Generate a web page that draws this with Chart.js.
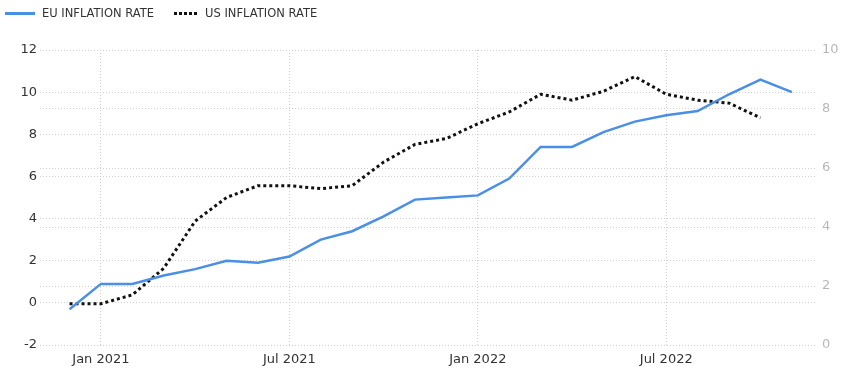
<!DOCTYPE html>
<html>
<head>
<meta charset="utf-8">
<script src="https://cdn.jsdelivr.net/npm/chart.js@4"></script>
<style>
  html, body { margin: 0; padding: 0; background: #fff; }
  #wrap { position: relative; width: 848px; height: 377px; }
  #legend {
    position: absolute; left: 5px; top: 6px;
    font-family: "DejaVu Sans", sans-serif; font-size: 11.5px; color: #333;
    display: flex; align-items: center;
  }
  .item { display: flex; align-items: center; margin-right: 20px; }
  .sw { width: 30px; height: 3px; margin-right: 7px; }
  .eu { background: #4a8fe7; }
  .us { width: 24px; background: repeating-linear-gradient(90deg, #111 0 3px, transparent 3px 5px); }
</style>
</head>
<body>
<div id="wrap">
  <canvas id="chart" width="848" height="377"></canvas>
  <div id="legend">
    <div class="item"><span class="sw eu"></span>EU INFLATION RATE</div>
    <div class="item"><span class="sw us"></span>US INFLATION RATE</div>
  </div>
</div>
<script>
const months = ["Dec 2020", "Jan 2021", "Feb 2021", "Mar 2021", "Apr 2021", "May 2021", "Jun 2021",
  "Jul 2021", "Aug 2021", "Sep 2021", "Oct 2021", "Nov 2021", "Dec 2021",
  "Jan 2022", "Feb 2022", "Mar 2022", "Apr 2022", "May 2022", "Jun 2022",
  "Jul 2022", "Aug 2022", "Sep 2022", "Oct 2022", "Nov 2022"]
const euInflation = [-0.3, 0.9, 0.9, 1.3, 1.6, 2.0, 1.9, 2.2, 3.0, 3.4, 4.1, 4.9, 5.0,
  5.1, 5.9, 7.4, 7.4, 8.1, 8.6, 8.9, 9.1, 9.9, 10.6, 10.0]
const usInflation = [1.4, 1.4, 1.7, 2.6, 4.2, 5.0, 5.4, 5.4, 5.3, 5.4, 6.2, 6.8, 7.0,
  7.5, 7.9, 8.5, 8.3, 8.6, 9.1, 8.5, 8.3, 8.2, 7.7]
const tickLabels = ["Jan 2021", "Jul 2021", "Jan 2022", "Jul 2022"]
const tickValues = tickLabels.map((l) => months.indexOf(l))

// dotted light grid, shared by all three axes
const gridStyle = { color: "#cfcfcf", lineWidth: 1, drawTicks: false }
const gridBorder = { display: false, dash: [1, 2] }
const tickFont = { family: "DejaVu Sans", size: 13 }

new Chart(document.getElementById("chart"), {
  type: "line",
  data: {
    datasets: [
      {
        label: "EU INFLATION RATE",
        data: euInflation.map((v, i) => ({ x: i, y: v })),
        borderColor: "#4a8fe7",
        borderWidth: 2.5,
        pointRadius: 0,
        tension: 0,
        yAxisID: "y",
      },
      {
        label: "US INFLATION RATE",
        data: usInflation.map((v, i) => ({ x: i, y: v })),
        borderColor: "#111",
        borderWidth: 3,
        borderDash: [3, 3],
        pointRadius: 0,
        tension: 0,
        yAxisID: "y2",
      },
    ],
  },
  options: {
    responsive: false,
    animation: false,
    layout: { padding: { top: 50, left: 0, right: 0, bottom: 0 } },
    plugins: { legend: { display: false }, tooltip: { enabled: false } },
    scales: {
      x: {
        type: "linear",
        min: -0.94,
        max: 23.8,
        afterBuildTicks: (scale) => { scale.ticks = tickValues.map((v) => ({ value: v })) },
        afterFit: (scale) => { scale.height = 32 },
        ticks: {
          callback: (v) => months[v],
          color: "#333",
          font: tickFont,
          padding: 7,
          maxRotation: 0,
          autoSkip: false,
        },
        grid: { ...gridStyle },
        border: { ...gridBorder },
      },
      y: {
        position: "left",
        min: -2,
        max: 12,
        afterFit: (scale) => { scale.width = 40 },
        ticks: { stepSize: 2, color: "#333", font: tickFont, padding: 3 },
        grid: { ...gridStyle },
        border: { ...gridBorder },
      },
      y2: {
        position: "right",
        min: 0,
        max: 10,
        afterFit: (scale) => { scale.width = 31 },
        ticks: { stepSize: 2, color: "#b8b8b8", font: tickFont, padding: 5 },
        grid: { ...gridStyle },
        border: { ...gridBorder },
      },
    },
  },
})
</script>
</body>
</html>
